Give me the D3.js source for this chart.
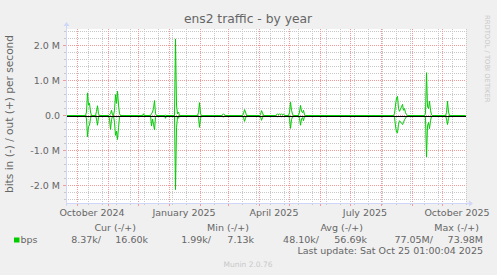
<!DOCTYPE html>
<html><head><meta charset="utf-8">
<script src="https://cdn.jsdelivr.net/npm/d3@7"></script>
<style>body{margin:0;background:#F0F0F0;}svg{display:block;font-family:"DejaVu Sans",sans-serif;}</style>
</head><body><svg id="c" width="497" height="275"></svg>
<script>
// ---- data (values in Mbit/s) ----
const dates = [
"2024-09-20","2024-10-09","2024-10-10","2024-10-11","2024-10-12","2024-10-13","2024-10-14","2024-10-15",
"2024-10-19","2024-10-20","2024-10-21","2024-10-22","2024-10-23",
"2024-11-01","2024-11-02","2024-11-03","2024-11-04","2024-11-05","2024-11-06",
"2024-11-07","2024-11-08","2024-11-09","2024-11-10","2024-11-11","2024-11-12","2024-11-13",
"2024-12-05","2024-12-06","2024-12-07",
"2024-12-13","2024-12-14","2024-12-15","2024-12-16","2024-12-17","2024-12-18","2024-12-19",
"2024-12-27","2024-12-28","2024-12-29",
"2025-01-06","2025-01-07","2025-01-08","2025-01-09","2025-01-10","2025-01-11",
"2025-01-29","2025-01-30","2025-01-31","2025-02-01","2025-02-02",
"2025-02-22","2025-02-23","2025-02-24","2025-02-25","2025-02-26",
"2025-03-15","2025-03-16","2025-03-17","2025-03-18","2025-03-19",
"2025-04-01","2025-04-02","2025-04-03","2025-04-04","2025-04-05",
"2025-04-17","2025-04-18","2025-04-19","2025-04-20","2025-04-21","2025-04-22","2025-04-23","2025-04-24","2025-04-25","2025-04-26","2025-04-27",
"2025-04-30","2025-05-01","2025-05-02","2025-05-03","2025-05-04","2025-05-05",
"2025-05-10","2025-05-11","2025-05-12","2025-05-13","2025-05-14","2025-05-15","2025-05-16","2025-05-17",
"2025-08-13","2025-08-14","2025-08-15","2025-08-16","2025-08-17","2025-08-18","2025-08-19","2025-08-20","2025-08-21","2025-08-22","2025-08-23","2025-08-24","2025-08-25","2025-08-26","2025-08-27",
"2025-09-13","2025-09-14","2025-09-15","2025-09-16","2025-09-17","2025-09-18","2025-09-19","2025-09-20","2025-09-21",
"2025-10-04","2025-10-05","2025-10-06","2025-10-07","2025-10-08",
"2025-10-24"
];
const outValues = [
0,0,0.10,0.65,0.30,0.35,0.10,0,
0,0.12,0.28,0.05,0,
0,0.02,0.05,0.15,0.02,0,
0.15,0.60,0.35,0.70,0.30,0.05,0,
0,0.05,0,
0,0.05,0.10,0.20,0.43,0.05,0,
0,0.01,0,
0,2.20,0.30,0.05,0.10,0,
0,0.08,0.37,0.05,0,
0,0.02,0.05,0.02,0,
0,0.05,0.17,0.10,0,
0,0.03,0.14,0.08,0,
0,0.02,0.05,0.02,0.05,0.02,0.05,0.02,0.04,0.01,0,
0,0.08,0.38,0.15,0.04,0,
0,0.10,0.29,0.12,0.08,0.15,0.02,0,
0,0.05,0.30,0.50,0.55,0.20,0.12,0.18,0.25,0.32,0.15,0.20,0.08,0.03,0,
0,0.05,1.23,0.25,0.20,0.41,0.15,0.02,0,
0,0.08,0.41,0.10,0,
0
];
const inValues = [
0,0,0.10,0.61,0.32,0.28,0.08,0,
0,0.10,0.28,0.05,0,
0,0.10,0.40,0.12,0.02,0,
0.20,0.57,0.45,0.69,0.35,0.05,0,
0,0.01,0,
0,0.30,0.10,0.25,0.41,0.05,0,
0,0.08,0,
0,2.13,0.35,0.05,0.08,0,
0,0.05,0.34,0.08,0,
0,0.02,0.05,0.02,0,
0,0.05,0.17,0.08,0,
0,0.03,0.14,0.06,0,
0,0.02,0.04,0.01,0.04,0.01,0.04,0.02,0.03,0.01,0,
0,0.08,0.37,0.12,0.04,0,
0,0.08,0.28,0.10,0.06,0.15,0.02,0,
0,0.05,0.30,0.48,0.50,0.25,0.15,0.18,0.22,0.26,0.20,0.12,0.08,0.03,0,
0,0.05,1.19,0.30,0.20,0.38,0.15,0.02,0,
0,0.10,0.26,0.08,0,
0
];
const yTickValues = [-2, -1, 0, 1, 2];
const yTickLabels = ["-2.0 M", "-1.0 M", "0.0", "1.0 M", "2.0 M"];
const xLabelDates = ["2024-10-16", "2025-01-16", "2025-04-16", "2025-07-16", "2025-10-16"];
const xLabels = ["October 2024", "January 2025", "April 2025", "July 2025", "October 2025"];
const legendHeaders = ["Cur (-/+)", "Min (-/+)", "Avg (-/+)", "Max (-/+)"];
const legendIn = ["8.37k/", "1.99k/", "48.10k/", "77.05M/"];
const legendOut = ["16.60k", "7.13k", "56.69k", "73.98M"];
const seriesName = "bps";
const title = "ens2 traffic - by year";
const yTitle = "bits in (-) / out (+) per second";
const lastUpdate = "Last update: Sat Oct 25 01:00:04 2025";

// ---- drawing ----
const svg = d3.select("#c");
const FONT = "#666666", GREEN = "#00CC00", AXIS = "#CFD6F8";
const GRID = "#C8C8C8", MGRID = "#F29A9A";
const L = 66, R = 466, T = 29, B = 203;
const parse = s => { const [a,b,c] = s.split("-").map(Number); return new Date(Date.UTC(a, b-1, c, 12)); };
const x = d3.scaleUtc().domain([new Date(Date.UTC(2024,8,20,12)), new Date(Date.UTC(2025,9,25,12))]).range([66.5, 466.5]);
const y = d3.scaleLinear().domain([-2.5, 2.5]).range([202.5, 28.5]);
const px = v => Math.floor(v) + 0.5;

svg.append("rect").attr("width",497).attr("height",275).attr("fill","#F0F0F0");
svg.append("rect").attr("x",L).attr("y",T).attr("width",R-L).attr("height",B-T).attr("fill","#FFFFFF");

const g = svg.append("g");
// horizontal minor grid
d3.range(-12, 13).filter(i => i % 5 !== 0).forEach(i => {
  const yy = px(y(i*0.2));
  g.append("line").attr("x1",L).attr("x2",R).attr("y1",yy).attr("y2",yy)
   .attr("stroke",GRID).attr("stroke-dasharray","1,1");
  g.append("line").attr("x1",L-2).attr("x2",L).attr("y1",yy).attr("y2",yy).attr("stroke",GRID);
});
// vertical minor grid (every 14 days)
const [d0, d1] = x.domain();
let minor = [];
for (let t = new Date(Date.UTC(2024,9,12)); t < d1; t = d3.utcDay.offset(t, 14)) minor.push(t);
minor.forEach(t => {
  const xx = px(x(t));
  g.append("line").attr("x1",xx).attr("x2",xx).attr("y1",T).attr("y2",B)
   .attr("stroke",GRID).attr("stroke-dasharray","1,1");
  g.append("line").attr("x1",xx).attr("x2",xx).attr("y1",B).attr("y2",B+2).attr("stroke",GRID);
});
// major grid
yTickValues.forEach((v,i) => {
  const yy = px(y(v));
  g.append("line").attr("x1",L).attr("x2",R).attr("y1",yy).attr("y2",yy)
   .attr("stroke",MGRID).attr("stroke-dasharray","1,1");
  g.append("line").attr("x1",L-3).attr("x2",L).attr("y1",yy).attr("y2",yy).attr("stroke",MGRID);
  svg.append("text").attr("x",60).attr("y",yy+3.5).attr("text-anchor","end")
   .attr("font-size","9.5px").attr("fill",FONT).text(yTickLabels[i]);
});
d3.utcMonth.range(d0, d1).forEach(t => {
  const xx = px(x(t));
  g.append("line").attr("x1",xx).attr("x2",xx).attr("y1",T).attr("y2",B)
   .attr("stroke",MGRID).attr("stroke-dasharray","1,1");
  g.append("line").attr("x1",xx).attr("x2",xx).attr("y1",B).attr("y2",B+3).attr("stroke",MGRID);
});
xLabelDates.forEach((s,i) => {
  const [a,b,c] = s.split("-").map(Number);
  svg.append("text").attr("x", x(new Date(Date.UTC(a,b-1,c)))).attr("y",216).attr("text-anchor","middle")
   .attr("font-size","9.5px").attr("fill",FONT).text(xLabels[i]);
});

// series
const pts = dates.map((d,i) => ({date: parse(d), out: outValues[i], inn: inValues[i]}));
const lineOut = d3.line().x(d => x(d.date)).y(d => y(d.out));
const lineIn = d3.line().x(d => x(d.date)).y(d => y(-d.inn));
svg.append("path").datum(pts).attr("d",lineIn).attr("fill","none").attr("stroke",GREEN).attr("stroke-width",1);
svg.append("path").datum(pts).attr("d",lineOut).attr("fill","none").attr("stroke",GREEN).attr("stroke-width",1);
// zero rule
svg.append("line").attr("x1",L).attr("x2",R).attr("y1",px(y(0))+1).attr("y2",px(y(0))+1).attr("stroke","#000").attr("stroke-width",1);

// axes + arrows
svg.append("line").attr("x1",L).attr("x2",469).attr("y1",B+0.5).attr("y2",B+0.5).attr("stroke",AXIS);
svg.append("path").attr("d",`M469,${B-2.5}L473,${B+0.5}L469,${B+3.5}Z`).attr("fill",AXIS);
svg.append("line").attr("x1",L+0.5).attr("x2",L+0.5).attr("y1",B+3).attr("y2",26).attr("stroke",AXIS);
svg.append("path").attr("d",`M${L-2.5},26L${L+0.5},22L${L+3.5},26Z`).attr("fill",AXIS);

// titles
svg.append("text").attr("x",248).attr("y",23).attr("text-anchor","middle")
  .attr("font-size","12.3px").attr("fill",FONT).text(title);
svg.append("text").attr("transform","translate(13,114) rotate(-90)").attr("text-anchor","middle")
  .attr("font-size","10.6px").attr("fill",FONT).text(yTitle);
svg.append("text").attr("transform","translate(485,15) rotate(90)").attr("text-anchor","start")
  .attr("font-size","6.8px").attr("fill","#C8C8C8").text("RRDTOOL / TOBI OETIKER");

// legend
const headerEnds = [136, 249, 363, 479];
const inEnds = [101, 211, 319, 433];
const outEnds = [148, 254, 367, 483];
legendHeaders.forEach((h,i) => {
  svg.append("text").attr("x",headerEnds[i]).attr("y",231).attr("text-anchor","end")
   .attr("font-size","9.5px").attr("fill",FONT).text(h);
  svg.append("text").attr("x",inEnds[i]).attr("y",242.5).attr("text-anchor","end")
   .attr("font-size","9.5px").attr("fill",FONT).text(legendIn[i]);
  svg.append("text").attr("x",outEnds[i]).attr("y",242.5).attr("text-anchor","end")
   .attr("font-size","9.5px").attr("fill",FONT).text(legendOut[i]);
});
svg.append("rect").attr("x",14).attr("y",237.5).attr("width",5.5).attr("height",5).attr("fill",GREEN);
svg.append("text").attr("x",20.5).attr("y",242.5).attr("font-size","9.5px").attr("fill",FONT).text(seriesName);
svg.append("text").attr("x",483).attr("y",254.3).attr("text-anchor","end")
  .attr("font-size","9.5px").attr("fill",FONT).text(lastUpdate);
svg.append("text").attr("x",248).attr("y",266.7).attr("text-anchor","middle")
  .attr("font-size","7.5px").attr("fill","#C8C8C8").text("Munin 2.0.76");
</script></body></html>
